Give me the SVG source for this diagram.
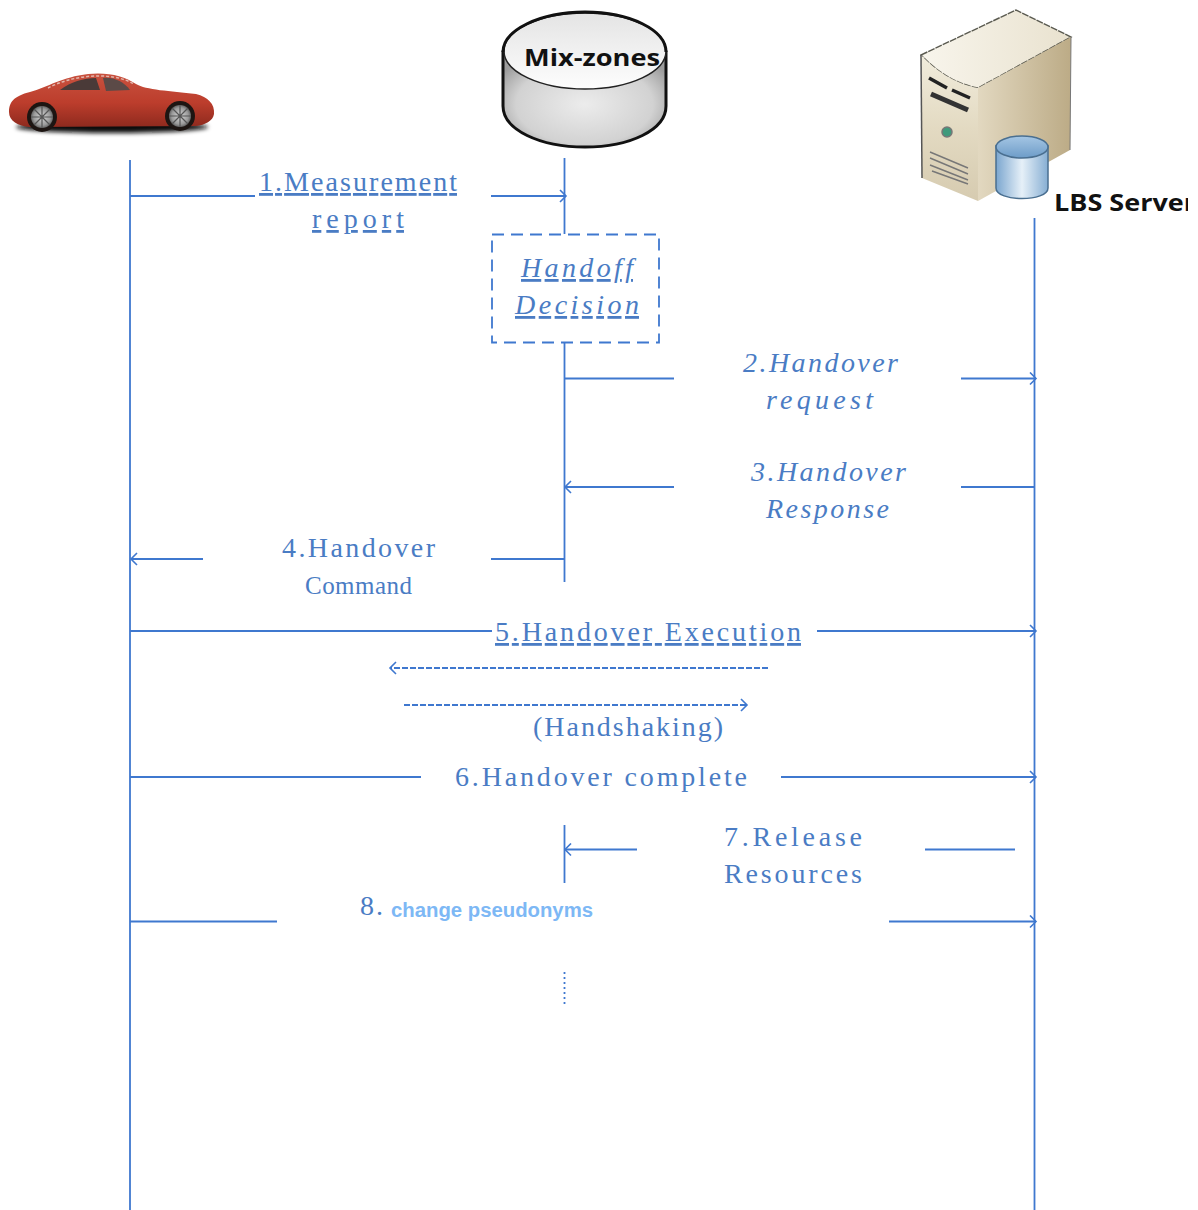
<svg xmlns="http://www.w3.org/2000/svg" width="1198" height="1210" viewBox="0 0 1198 1210">
<style>
.l{stroke:#3f78cf;stroke-width:1.8;fill:none}
.t{font-family:"Liberation Serif",serif;font-size:28px;fill:#4a7cc4}
.i{font-style:italic}
.u{text-decoration:underline;text-decoration-skip-ink:none}
.b{font-family:"Open Sans","DejaVu Sans",sans-serif;font-weight:700;fill:#111}
.s{stroke:#555;stroke-width:1.2;fill:none}
</style>
<defs>
<marker id="a" markerWidth="12" markerHeight="14" refX="9" refY="7" orient="auto-start-reverse" markerUnits="userSpaceOnUse"><path d="M3 1 L9 7 L3 13" fill="none" stroke="#3f78cf" stroke-width="1.6"/></marker>
<radialGradient id="cyl" cx=".5" cy=".55" r=".6"><stop offset="0" stop-color="#ececec"/><stop offset=".7" stop-color="#d2d2d2"/><stop offset="1" stop-color="#9c9c9c"/></radialGradient>
<linearGradient id="top" x1="0" x2="0" y1="0" y2="1"><stop offset="0" stop-color="#e4e4e4"/><stop offset="1" stop-color="#fdfdfd"/></linearGradient>
<linearGradient id="stop" x1="0" x2="1" y1="0" y2="0"><stop offset="0" stop-color="#f8f5ec"/><stop offset="1" stop-color="#e9e2cf"/></linearGradient>
<linearGradient id="sv" x1="0" x2="0" y1="0" y2="1"><stop offset="0" stop-color="#f1ecdc"/><stop offset=".5" stop-color="#e3dac2"/><stop offset="1" stop-color="#d6cbb0"/></linearGradient>
<linearGradient id="sr" x1="0" x2="1" y1="0" y2="0"><stop offset="0" stop-color="#e2d8c0"/><stop offset="1" stop-color="#bcab86"/></linearGradient>
<linearGradient id="db" x1="0" x2="1" y1="0" y2="0"><stop offset="0" stop-color="#7ba6cf"/><stop offset=".5" stop-color="#e6f0f8"/><stop offset="1" stop-color="#86aed3"/></linearGradient>
<linearGradient id="dbt" x1="0" x2="0" y1="0" y2="1"><stop offset="0" stop-color="#a5c6e4"/><stop offset="1" stop-color="#6d9cc8"/></linearGradient>
<linearGradient id="body" x1="0" x2="0" y1="0" y2="1"><stop offset="0" stop-color="#c9523f"/><stop offset=".55" stop-color="#bc3d2c"/><stop offset="1" stop-color="#8e2a1e"/></linearGradient>
<radialGradient id="wh"><stop offset="0" stop-color="#d8d8d8"/><stop offset=".75" stop-color="#9a9a9a"/><stop offset="1" stop-color="#666"/></radialGradient>
<filter id="bl" x="-10%" y="-50%" width="120%" height="200%"><feGaussianBlur stdDeviation="2"/></filter>
</defs>

<g id="car">
<ellipse cx="112" cy="127" rx="96" ry="6" fill="#111" filter="url(#bl)"/>
<path d="M9 112 C9 102 14 96 30 92 C48 87 62 77 88 74 C108 72 124 76 136 84 C146 90 170 91 196 94 C208 97 215 104 214 114 C213 121 205 125 196 126 L30 127 C18 126 9 121 9 112Z" fill="url(#body)"/>
<path d="M60 90 C70 82 84 78 96 78 L100 90Z" fill="#4a3a38"/>
<path d="M103 78 C114 77 124 82 130 90 L106 91Z" fill="#5b4a47"/>
<path d="M48 88 C70 76 110 70 134 84" fill="none" stroke="#e2b7ae" stroke-width="1.5" stroke-dasharray="3 2"/>
<circle cx="42" cy="117" r="15" fill="#1d1512"/><circle cx="42" cy="117" r="11" fill="url(#wh)"/>
<path d="M31 117H53M42 106V128M34 109L50 125M34 125L50 109" stroke="#555" stroke-width="1.2"/>
<circle cx="180" cy="116" r="15" fill="#1d1512"/><circle cx="180" cy="116" r="11" fill="url(#wh)"/>
<path d="M169 116H191M180 105V127M172 108L188 124M172 124L188 108" stroke="#555" stroke-width="1.2"/>
</g>

<g id="mixzones">
<path d="M503 52 L503 106 C503 130 540 147 585 147 C630 147 666 130 666 106 L666 52Z" fill="url(#cyl)" stroke="#111" stroke-width="3"/>
<ellipse cx="585" cy="51" rx="81" ry="38" fill="url(#top)" stroke="#222" stroke-width="1.5"/>
<path d="M503 52 C503 30 540 12 585 12 C630 12 666 30 666 52" fill="none" stroke="#111" stroke-width="3"/>
<text class="b" x="524" y="66" font-size="23" textLength="136" lengthAdjust="spacingAndGlyphs">Mix-zones</text>
</g>

<g id="lbs">
<path d="M921 55 L1016 10 L1071 37 L978 88 C955 84 935 70 921 55Z" fill="url(#stop)" stroke="#5a5a50" stroke-width="1.4" stroke-dasharray="7 1"/>
<path d="M921 55 C935 70 955 84 978 88 L978 201 L922 178Z" fill="url(#sv)"/>
<path d="M921 55 L922 178" stroke="#555" stroke-width="1.5"/>
<path d="M978 88 L1071 37 L1070 150 L978 201Z" fill="url(#sr)"/>
<path d="M1071 37 L1070 150" stroke="#777" stroke-width="1"/>
<path d="M929 78 L947 88 M952 90 L970 98" stroke="#222" stroke-width="3.500" fill="none"/>
<path d="M931 94 L968 110" stroke="#333" stroke-width="5" fill="none"/>
<circle cx="947" cy="132" r="5" fill="#3f9a7c" stroke="#777" stroke-width="1.500"/>
<path d="M930 152 L968 168 M930 158 L968 174 M930 165 L968 180 M932 171 L968 184" stroke="#777" stroke-width="1.400" fill="none"/>
<path d="M996 146 L996 188 C996 202 1048 202 1048 188 L1048 146Z" fill="url(#db)" stroke="#4a6f90" stroke-width="1.500"/>
<ellipse cx="1022" cy="147" rx="26" ry="11" fill="url(#dbt)" stroke="#4a6f90" stroke-width="1.500"/>
<svg x="1040" y="180" width="148" height="40" viewBox="1040 180 148 40"><text class="b" x="1054" y="211" font-size="23" textLength="142" lengthAdjust="spacingAndGlyphs">LBS Server</text></svg>
</g>

<g id="handoff">
<rect x="492" y="234.500" width="167" height="108" fill="none" stroke="#3f78cf" stroke-width="1.800" stroke-dasharray="12 7"/>
<text class="t i u" x="521" y="277" textLength="112">Handoff</text>
<text class="t i u" x="515" y="314" textLength="124">Decision</text>
</g>

<g id="connectors">
<path class="l" d="M130 160V1210M1034.500 218V1210M564.500 158V234M564.500 342V582M564.500 825V883"/>
<path class="l" d="M130 196H255" />
<path class="l" d="M491 196H566" marker-end="url(#a)"/>
<path class="l" d="M565 378.500H674"/>
<path class="l" d="M961 378.500H1036" marker-end="url(#a)"/>
<path class="l" d="M674 487H565" marker-end="url(#a)"/>
<path class="l" d="M961 487H1035"/>
<path class="l" d="M203 559H131" marker-end="url(#a)"/>
<path class="l" d="M491 559H565"/>
<path class="l" d="M130 631H492"/>
<path class="l" d="M817 631H1036" marker-end="url(#a)"/>
<path class="l" d="M768 668H390" marker-end="url(#a)" stroke-dasharray="6 2"/>
<path class="l" d="M404 705H747" marker-end="url(#a)" stroke-dasharray="6 2"/>
<path class="l" d="M130 777H421"/>
<path class="l" d="M781 777H1036" marker-end="url(#a)"/>
<path class="l" d="M637 849.500H565" marker-end="url(#a)"/>
<path class="l" d="M925 849.500H1015"/>
<path class="l" d="M130 921.500H277"/>
<path class="l" d="M889 921.500H1036" marker-end="url(#a)"/>
<path class="l" d="M564.500 972V1007" stroke-dasharray="2 3"/>
</g>

<g id="labels">
<text class="t u" x="259" y="191" textLength="198">1.Measurement</text>
<text class="t u" x="312" y="228" textLength="92">report</text>
<text class="t i" x="743" y="372" textLength="155">2.Handover</text>
<text class="t i" x="766" y="409" textLength="107">request</text>
<text class="t i" x="751" y="481" textLength="155">3.Handover</text>
<text class="t i" x="766" y="518" textLength="123">Response</text>
<text class="t" x="282" y="557" textLength="153">4.Handover</text>
<text class="t" x="305" y="594" font-size="25" style="font-size:25px" textLength="107">Command</text>
<text class="t u" x="495" y="641" textLength="306">5.Handover Execution</text>
<text class="t" x="533" y="736" textLength="190">(Handshaking)</text>
<text class="t" x="455" y="786" textLength="292">6.Handover complete</text>
<text class="t" x="724" y="846" textLength="138">7.Release</text>
<text class="t" x="724" y="883" textLength="138">Resources</text>
<text class="t" x="360" y="915" textLength="23">8.</text>
<text x="391" y="917" font-family="'Liberation Sans',Arial,sans-serif" font-size="20" font-weight="700" fill="#7db8f5" textLength="202" lengthAdjust="spacingAndGlyphs">change pseudonyms</text>
</g>
</svg>
